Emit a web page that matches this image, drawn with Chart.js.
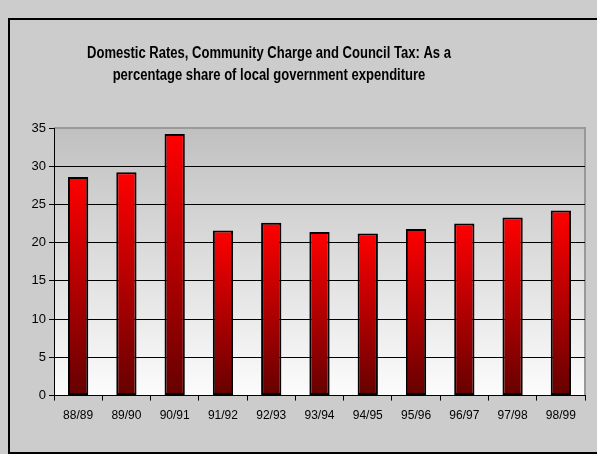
<!DOCTYPE html>
<html>
<head>
<meta charset="utf-8">
<script src="https://cdn.jsdelivr.net/npm/chart.js@4.4.1/dist/chart.umd.min.js"></script>
<style>
  html, body { margin: 0; padding: 0; background: #cccccc; }
  #wrap { position: relative; width: 597px; height: 454px; }
</style>
</head>
<body>
<div id="wrap"><canvas id="rateChart"></canvas></div>
<script>
const years = ['88/89', '89/90', '90/91', '91/92', '92/93', '93/94', '94/95', '95/96', '96/97', '97/98', '98/99'];
const sharePct = [28.6, 29.2, 34.2, 21.6, 22.6, 21.4, 21.2, 21.8, 22.5, 23.3, 24.2];
const yTicks = [0, 5, 10, 15, 20, 25, 30, 35];
const titleLines = ['Domestic Rates, Community Charge and Council Tax: As a',
                    'percentage share of local government expenditure'];

const sans = "'Liberation Sans', Arial, sans-serif";

// frame + plot-area gradient, drawn before everything else
const backdrop = {
  id: 'backdrop',
  beforeDraw(chart) {
    const c = chart.ctx, a = chart.chartArea;
    c.save();
    c.fillStyle = '#cccccc';
    c.fillRect(0, 0, chart.width, chart.height);
    c.strokeStyle = '#000';
    c.lineWidth = 2;
    c.beginPath();
    c.moveTo(9, chart.height);
    c.lineTo(9, 19);
    c.lineTo(chart.width, 19);
    c.stroke();
    c.beginPath();
    c.moveTo(9, chart.height - 1);
    c.lineTo(chart.width, chart.height - 1);
    c.stroke();
    const g = c.createLinearGradient(0, a.top, 0, a.bottom);
    g.addColorStop(0, '#c0c0c0');
    g.addColorStop(1, '#fcfcfc');
    c.fillStyle = g;
    c.fillRect(a.left, a.top, a.right - a.left, a.bottom - a.top);
    c.strokeStyle = '#999999';
    c.lineWidth = 2;
    c.beginPath();
    c.moveTo(a.left, a.top);
    c.lineTo(a.right, a.top);
    c.lineTo(a.right, a.bottom);
    c.stroke();
    c.restore();
  },
  // title is condensed in the original, so squeeze it horizontally
  afterDraw(chart) {
    const c = chart.ctx;
    c.save();
    c.fillStyle = '#000';
    c.font = 'bold 16px ' + sans;
    c.textAlign = 'center';
    c.textBaseline = 'alphabetic';
    c.translate(269, 0);
    c.scale(0.814, 1);
    c.fillText(titleLines[0], 0, 58);
    c.fillText(titleLines[1], 0, 80);
    c.restore();
  }
};

function barFill(context) {
  const chart = context.chart;
  if (!chart.chartArea) return '#cc0000';
  const y = chart.scales.y;
  const g = chart.ctx.createLinearGradient(0, y.getPixelForValue(context.raw), 0, y.getPixelForValue(0));
  g.addColorStop(0, '#ff0000');
  g.addColorStop(1, '#660000');
  return g;
}

const ctx = document.getElementById('rateChart').getContext('2d');
new Chart(ctx, {
  type: 'bar',
  data: {
    labels: years,
    datasets: [{
      label: 'Share',
      data: sharePct,
      backgroundColor: barFill,
      borderColor: '#000',
      borderWidth: 2,
      borderSkipped: false,
      barPercentage: 0.42,
      categoryPercentage: 1
    }]
  },
  options: {
    responsive: true,
    maintainAspectRatio: false,
    animation: false,
    layout: { padding: { top: 128, left: 10, right: 12, bottom: 23 } },
    plugins: {
      legend: { display: false },
      tooltip: { enabled: false },
      title: { display: false }
    },
    scales: {
      x: {
        grid: { drawOnChartArea: false, drawTicks: true, tickLength: 5, color: '#000', offset: true },
        border: { display: true, color: '#000', width: 1 },
        ticks: { color: '#000', padding: 8, font: { family: sans, size: 12 } }
      },
      y: {
        min: 0,
        max: 35,
        afterFit: s => { s.width = 44; },
        afterBuildTicks: s => { s.ticks = yTicks.map(v => ({ value: v })); },
        grid: {
          color: c => (c.tick && c.tick.value === 35) ? 'rgba(0,0,0,0)' : '#000',
          tickColor: '#000',
          tickLength: 5
        },
        border: { display: true, color: '#000', width: 1 },
        ticks: { color: '#000', padding: 3, font: { family: sans, size: 13 } }
      }
    }
  },
  plugins: [backdrop]
});
</script>
</body>
</html>
